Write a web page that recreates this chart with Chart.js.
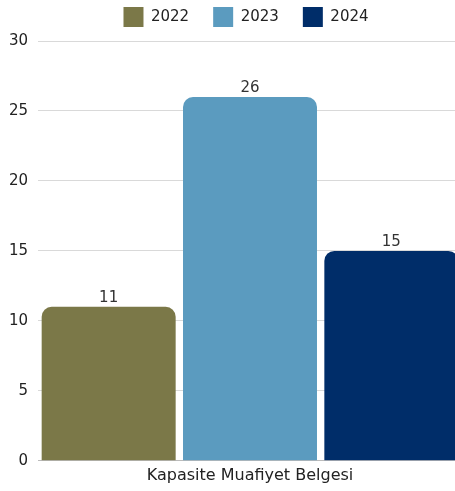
<!DOCTYPE html>
<html><head><meta charset="utf-8">
<script src="https://cdn.jsdelivr.net/npm/chart.js@4"></script>
<style>html,body{margin:0;padding:0;background:#fff;overflow:hidden}#w{width:462px;height:491px}</style>
</head><body><div id="w"><canvas id="c"></canvas></div>
<script>
const categories = ["Kapasite Muafiyet Belgesi"];
const seriesNames = ["2022", "2023", "2024"];
const values2022 = [11];
const values2023 = [26];
const values2024 = [15];
const yTicks = [0, 5, 10, 15, 20, 25, 30];
const colors = ["#7b7848", "#5b9bbf", "#002d69"];
const FONT = "'DejaVu Sans'";

const labelPlugin = {
  id: 'vlabels',
  afterDatasetsDraw(chart) {
    const ctx = chart.ctx;
    ctx.save();
    ctx.font = "15px " + FONT;
    ctx.fillStyle = "#333";
    ctx.textAlign = "center";
    ctx.textBaseline = "alphabetic";
    chart.data.datasets.forEach((ds, i) => {
      chart.getDatasetMeta(i).data.forEach((el, j) => {
        ctx.fillText(String(ds.data[j]), el.x, el.y - 5);
      });
    });
    ctx.restore();
  }
};

const chart = new Chart(document.getElementById('c'), {
  type: 'bar',
  data: {
    labels: categories,
    datasets: [values2022, values2023, values2024].map((d, i) => ({
      label: seriesNames[i], data: d, backgroundColor: colors[i],
      borderRadius: {topLeft: 10, topRight: 10, bottomLeft: 0, bottomRight: 0},
      borderSkipped: 'bottom',
      categoryPercentage: 1.0, barPercentage: 0.948
    }))
  },
  options: {
    responsive: true, maintainAspectRatio: false, animation: false,
    layout: {padding: {left: 0, right: 0, top: 0, bottom: 1}},
    plugins: {
      legend: {position: 'top', fullSize: false,
        labels: {boxWidth: 20, boxHeight: 20, padding: 24, color: '#222', font: {family: FONT, size: 15}}},
      tooltip: {enabled: false}
    },
    scales: {
      x: {grid: {display: false, drawTicks: false}, border: {color: '#bbb'},
          ticks: {color: '#222', font: {family: FONT, size: 16}, padding: 5}},
      y: {min: 0, max: 30, afterBuildTicks: (ax) => { ax.ticks = yTicks.map(v => ({value: v})); },
          afterFit: (ax) => { ax.width = 38; },
          grid: {color: '#d9d9d9', drawTicks: false}, border: {display: false},
          ticks: {color: '#222', font: {family: FONT, size: 15}, padding: 10}}
    }
  },
  plugins: [labelPlugin]
});
const lg = chart.legend;
const origFit = lg.fit.bind(lg);
lg.fit = function () { origFit(); this.height = 41; };
const origDraw = lg.draw.bind(lg);
lg.draw = function () {
  const t = this.top, l = this.left, r = this.right;
  this.top = t - 17; this.left = l - 4; this.right = r - 4;
  origDraw();
  this.top = t; this.left = l; this.right = r;
};
chart.update();
</script></body></html>
